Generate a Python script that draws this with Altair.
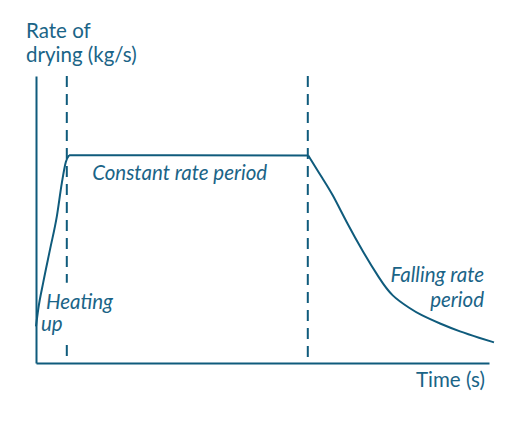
import altair as alt
import pandas as pd

# drying curve: time (arbitrary units) vs drying rate (arbitrary units),
# split into its three periods so the corners stay sharp
curve_part = ["heat"] * 8 + ["const"] * 3 + ["fall"] * 13
curve_time = [0.0, 0.5, 1.6, 3.1, 4.6, 5.7, 6.6, 7.3,
              7.3, 30.0, 60.1,
              60.1, 63.4, 65.3, 68.6, 72.3, 75.9, 78.5, 82.6, 84.8, 89.2, 93.6, 98.0, 101.1]
curve_rate = [12.8, 18.8, 28.1, 39.6, 51.1, 62.7, 70.1, 72.4,
              72.4, 72.35, 72.3,
              72.3, 63.9, 59.3, 48.9, 38.4, 29.2, 23.3, 19.0, 16.8, 13.7, 10.9, 8.7, 7.2]

# dashed period boundaries, drawn top-down (the first is broken around "Heating up")
boundary_seg = ["a", "a", "b", "b", "c", "c"]
boundary_time = [6.8, 6.8, 6.8, 6.8, 60.0, 60.0]
boundary_rate = [100.0, 28.0, 6.3, 0.0, 100.0, 0.0]

label_text = ["Rate of", "drying (kg/s)", "Time (s)",
              "Constant rate period", "Heating", "up",
              "Falling rate", "period"]
label_time = [-2.2, -2.2, 99.1, 12.4, 2.2, 1.1, 98.9, 98.9]
label_rate = [113.2, 104.9, -8.3, 63.9, 18.7, 11.1, 28.1, 19.4]
label_group = ["plain-left", "plain-left", "plain-right",
               "italic-left", "italic-left", "italic-left",
               "italic-right", "italic-right"]

ink = "#0f5b7c"
text_ink = "#1a6487"
font = "Lato"

curve = pd.DataFrame({"part": curve_part, "t": curve_time, "r": curve_rate})
bounds = pd.DataFrame({"seg": boundary_seg, "t": boundary_time, "r": boundary_rate,
                       "i": list(range(len(boundary_seg)))})
labels = pd.DataFrame({"text": label_text, "t": label_time, "r": label_rate, "g": label_group})

xs = alt.Scale(domain=[0, 100], nice=False, zero=False)
ys = alt.Scale(domain=[0, 100], nice=False, zero=False)
ax = dict(domain=True, domainColor=ink, domainWidth=2, ticks=False, labels=False,
          grid=False, title=None)

dashes = alt.Chart(bounds).mark_line(color=ink, strokeWidth=2, strokeDash=[11, 7]).encode(
    x=alt.X("t:Q", scale=xs, axis=alt.Axis(**ax)),
    y=alt.Y("r:Q", scale=ys, axis=alt.Axis(**ax)),
    detail="seg:N",
    order="i:Q"
)


def curve_layer(parts, interp):
    return alt.Chart(curve).transform_filter(
        alt.FieldOneOfPredicate(field="part", oneOf=parts)
    ).mark_line(color=ink, strokeWidth=2, clip=False, interpolate=interp).encode(
        x=alt.X("t:Q", scale=xs),
        y=alt.Y("r:Q", scale=ys),
        detail="part:N",
        order="t:Q"
    )


def text_layer(group, align, style):
    return alt.Chart(labels).transform_filter(
        alt.datum.g == group
    ).mark_text(
        align=align, baseline="alphabetic", font=font, fontSize=20.5,
        fontStyle=style, color=text_ink, clip=False
    ).encode(
        x=alt.X("t:Q", scale=xs),
        y=alt.Y("r:Q", scale=ys),
        text="text:N"
    )


chart = alt.layer(
    dashes,
    curve_layer(["heat", "const"], "monotone"),
    curve_layer(["fall"], "basis"),
    text_layer("plain-left", "left", "normal"),
    text_layer("plain-right", "right", "normal"),
    text_layer("italic-left", "left", "italic"),
    text_layer("italic-right", "right", "italic"),
).properties(
    width=453,
    height=287,
    padding={"left": 28, "top": 68, "right": 12, "bottom": 58},
    autosize=alt.AutoSizeParams(type="none")
).configure_view(stroke=None)

chart.save("out.html", embed_options={"renderer": "svg", "actions": False})
